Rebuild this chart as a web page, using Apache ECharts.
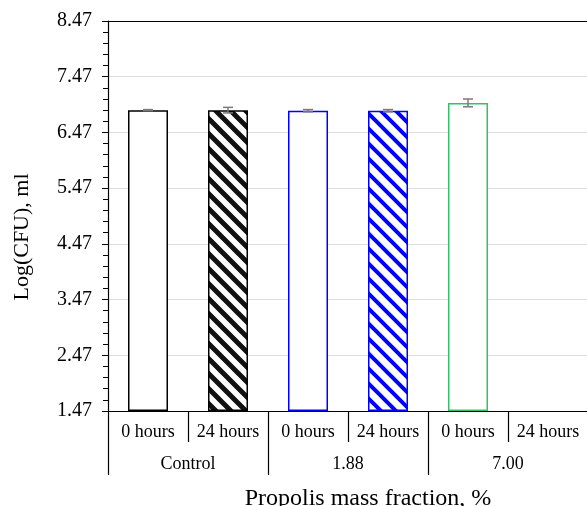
<!DOCTYPE html>
<html><head><meta charset="utf-8">
<script src="https://cdn.jsdelivr.net/npm/echarts@6/dist/echarts.min.js"></script>
<style>html,body{margin:0;padding:0;background:#fff}#c{width:587px;height:506px}</style>
</head><body><div id="c"></div>
<script>
const BASE = 1.47;
const yTop = 8.47;
const groups = ['Control', '1.88', '7.00'];
const times = ['0 hours', '24 hours', '0 hours', '24 hours', '0 hours', '24 hours'];
const values = [6.87, 6.87, 6.86, 6.86, 7.00, null];
const errors = [0.01, 0.05, 0.02, 0.02, 0.07, null];
const colors = ['#111111', '#111111', '#0000ff', '#0000ff', '#33c266', '#33c266'];
const hatched = [false, true, false, true, false, false];
const yTitle = 'Log(CFU), ml';
const xTitle = 'Propolis mass fraction, %';

function makeHatch(color, lw) {
  const s = 15;
  const c = document.createElement('canvas');
  c.width = s; c.height = s;
  const g = c.getContext('2d');
  g.fillStyle = '#fff'; g.fillRect(0, 0, s, s);
  g.strokeStyle = color; g.lineWidth = lw;
  g.beginPath();
  g.moveTo(-s / 2, -s / 2); g.lineTo(s * 1.5, s * 1.5);
  g.moveTo(s / 2, -s / 2); g.lineTo(s * 1.5, s / 2);
  g.moveTo(-s / 2, s / 2); g.lineTo(s / 2, s * 1.5);
  g.stroke();
  return c;
}

const font = 'Liberation Serif, Times New Roman, serif';
const barData = values.map((v, i) => v == null ? null : {
  value: +(v - BASE).toFixed(4),
  itemStyle: {
    color: hatched[i] ? { image: makeHatch(colors[i], colors[i] === '#111111' ? 5 : 4), repeat: 'repeat' } : '#fff',
    borderColor: colors[i] === '#111111' ? '#000' : colors[i],
    borderWidth: 1.5
  }
});
const errData = values.map((v, i) => v == null ? [i, null, null] : [i, v - errors[i] - BASE, v + errors[i] - BASE]);

const chart = echarts.init(document.getElementById('c'), null, { renderer: 'canvas' });
chart.setOption({
  animation: false,
  grid: { left: 108, right: -1, top: 21, bottom: 95, containLabel: false, outerBoundsMode: 'none' },
  graphic: [
    { type: 'text', x: 22, y: 237, rotation: Math.PI / 2,
      style: { text: yTitle, font: '22px ' + font, fill: '#000', align: 'center', verticalAlign: 'middle' } },
    { type: 'text', x: 368, y: 499,
      style: { text: xTitle, font: '24px ' + font, fill: '#000', align: 'center', verticalAlign: 'middle' } }
  ],
  xAxis: [
    {
      type: 'category', data: times, position: 'bottom',
      axisLine: { lineStyle: { color: '#000', width: 1.2 } },
      axisTick: { show: true, length: 31, interval: 0, lineStyle: { color: '#000', width: 1.2 } },
      axisLabel: { interval: 0, margin: 12, fontFamily: font, fontSize: 18, color: '#000' },
      splitLine: { show: false }
    },
    {
      type: 'category', data: groups, position: 'bottom', offset: 31,
      axisLine: { show: false },
      axisTick: { show: true, length: 33, interval: 0, lineStyle: { color: '#000', width: 1.2 } },
      axisLabel: { interval: 0, margin: 13, fontFamily: font, fontSize: 18, color: '#000' }
    },
    {
      type: 'category', data: times, position: 'top',
      axisLine: { show: true, lineStyle: { color: '#000', width: 1.2 } },
      axisTick: { show: false }, axisLabel: { show: false }
    }
  ],
  yAxis: {
    type: 'value', min: 0, max: yTop - BASE, interval: 1,
    axisLine: { show: true, lineStyle: { color: '#000', width: 1.2 } },
    axisTick: { show: true, length: 6, lineStyle: { color: '#000' } },
    minorTick: { show: true, splitNumber: 5, length: 5, lineStyle: { color: '#000' } },
    axisLabel: { margin: 16, fontFamily: font, fontSize: 20, color: '#000',
      formatter: v => (v + BASE).toFixed(2) },
    splitLine: { show: true, lineStyle: { color: '#dcdcdc', width: 1 } }
  },
  series: [
    { type: 'bar', data: barData, barWidth: '50%', xAxisIndex: 0 },
    {
      type: 'custom', xAxisIndex: 0, data: errData, z: 5,
      renderItem: function (params, api) {
        if (api.value(1) == null || isNaN(api.value(1))) return null;
        const x = api.value(0);
        const lo = api.coord([x, api.value(1)]);
        const hi = api.coord([x, api.value(2)]);
        const w = 5;
        const st = { stroke: '#7a7a7a', lineWidth: 1.5 };
        return { type: 'group', children: [
          { type: 'line', shape: { x1: lo[0], y1: lo[1], x2: hi[0], y2: hi[1] }, style: st },
          { type: 'line', shape: { x1: lo[0] - w, y1: lo[1], x2: lo[0] + w, y2: lo[1] }, style: st },
          { type: 'line', shape: { x1: hi[0] - w, y1: hi[1], x2: hi[0] + w, y2: hi[1] }, style: st }
        ] };
      }
    }
  ]
});
</script></body></html>
